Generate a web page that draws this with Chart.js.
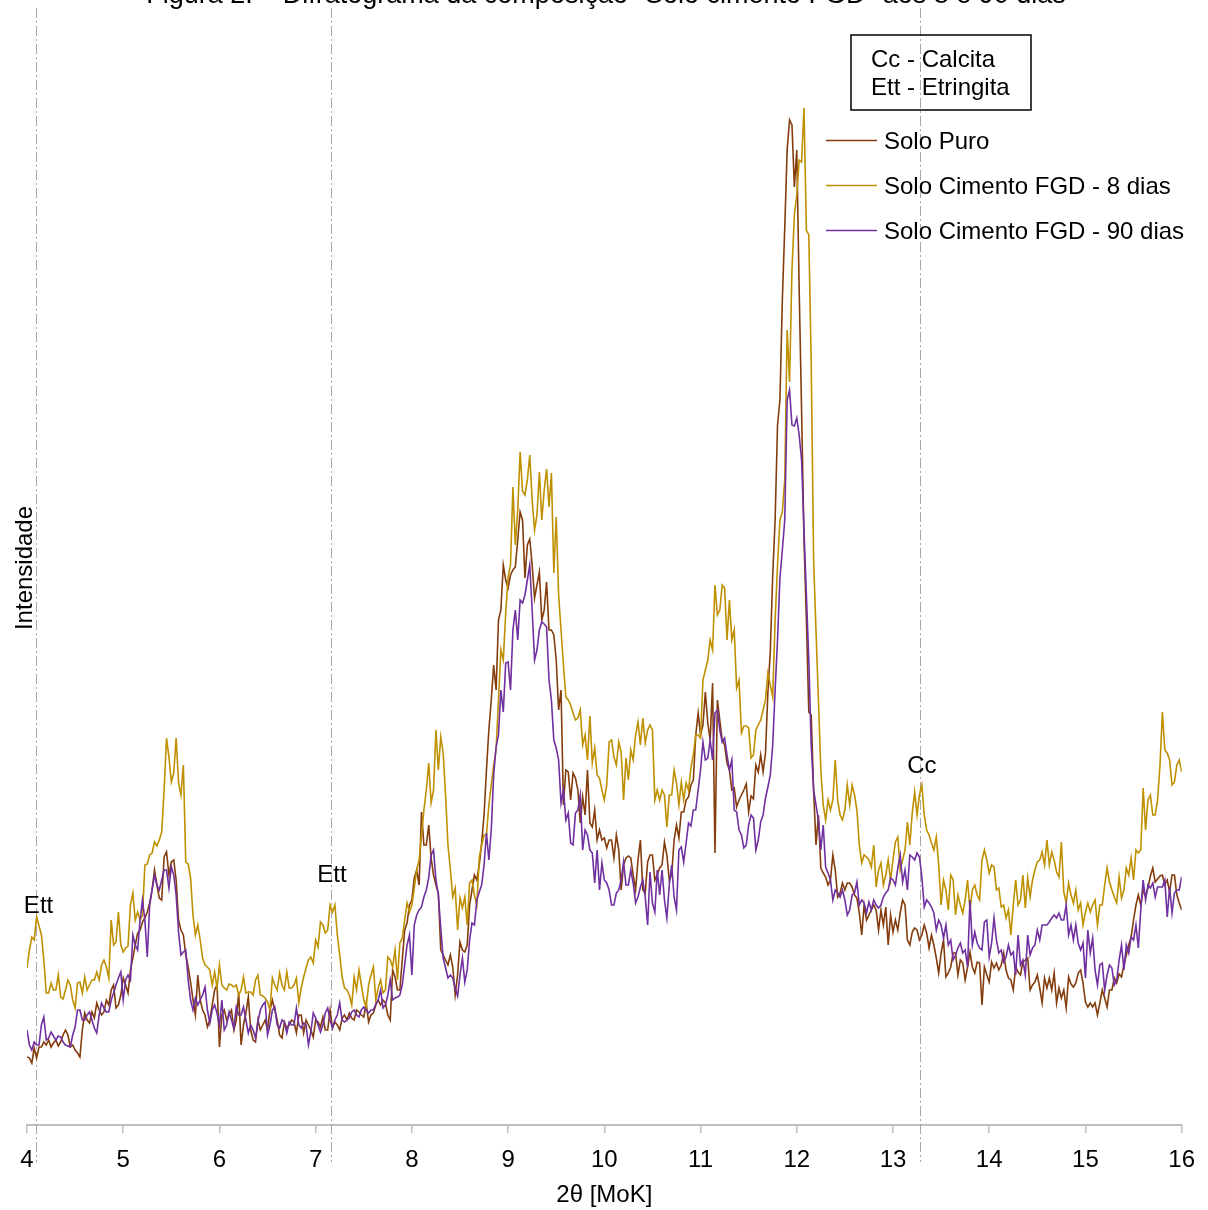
<!DOCTYPE html>
<html lang="pt">
<head>
<meta charset="utf-8">
<title>Difratograma – Solo cimento FGD</title>
<script src="https://cdn.jsdelivr.net/npm/chart.js@4.4.1/dist/chart.umd.min.js"></script>
<style>
  html, body { margin: 0; padding: 0; background: #ffffff; overflow: hidden; }
  #wrap { position: relative; width: 1208px; height: 1210px; overflow: hidden; background: #ffffff; }
  #c { position: absolute; left: 0; top: -30px; }
</style>
</head>
<body>
<div id="wrap"><canvas id="c" width="1208" height="1240"></canvas></div>
<script>
// Scan grid (2θ, degrees, MoKα)
const twoThetaStart = 4;
const twoThetaStep = 0.025;

// Intensities (arbitrary units) for each sample, one value per scan step
const soloPuro = [
  68,67,62,77,67,78,78,83,80,85,78,82,85,79,83,90,95,90,78,80,
  75,72,68,95,112,105,102,113,107,122,115,110,113,125,120,135,140,117,120,130,
  147,140,132,155,167,180,192,195,203,207,213,222,235,255,240,227,225,268,273,250,
  263,265,245,205,195,190,170,158,143,125,110,150,125,115,110,98,105,120,135,140,
  78,110,115,105,110,115,95,105,132,80,100,112,128,95,85,83,105,95,100,105,
  95,115,125,115,105,90,87,103,97,100,105,103,92,110,110,92,105,100,95,88,
  105,103,98,108,95,95,115,97,103,100,95,107,110,105,112,107,105,115,113,110,
  108,122,103,110,112,120,125,120,125,122,110,105,155,148,135,135,165,195,202,220,
  225,247,255,240,313,280,280,300,267,250,240,232,175,170,165,160,170,158,130,150,
  183,175,173,180,220,235,250,245,260,282,310,355,395,425,460,435,505,515,560,545,
  537,550,555,558,585,613,605,547,580,586,560,527,540,553,505,515,543,495,495,490,
  465,415,435,320,355,353,325,352,347,335,302,328,310,355,302,298,315,285,295,285,
  287,277,285,285,267,290,275,235,260,267,269,267,250,235,265,285,235,232,263,270,
  270,245,250,257,260,283,270,245,250,285,300,287,313,313,325,328,340,345,390,412,
  390,400,433,402,385,442,272,425,405,385,380,362,355,335,337,318,325,330,335,341,
  313,329,326,360,353,370,353,372,433,474,550,605,700,725,825,897,975,1005,1000,938,
  975,835,715,585,505,413,410,335,280,310,257,252,248,240,245,270,255,228,232,242,
  235,242,242,238,230,227,212,190,220,205,210,215,220,215,195,215,200,218,180,210,
  193,205,195,212,225,220,185,180,193,197,195,185,190,200,192,177,190,180,167,152,
  172,185,148,152,158,172,172,150,165,162,145,158,173,158,152,163,162,120,158,150,
  143,163,157,162,155,160,172,155,147,145,135,158,153,150,163,165,167,135,140,143,
  150,137,122,147,137,147,135,152,122,137,127,135,117,148,141,138,142,152,155,142,
  123,118,122,118,122,110,122,135,127,118,135,135,147,142,151,148,160,170,180,188,
  205,220,230,220,235,229,237,249,257,243,246,249,250,240,245,233,250,250,230,222,
  215
];

const fgd8 = [
  157,175,188,185,208,199,190,165,132,132,142,135,135,150,128,126,135,145,140,125,
  117,142,143,132,148,135,140,145,145,153,145,160,165,158,147,205,180,183,213,180,
  173,177,179,220,232,205,213,205,210,260,261,270,272,283,279,285,293,335,387,368,
  343,352,387,342,330,360,263,261,247,210,190,200,185,167,160,158,155,140,153,137,
  160,140,137,135,141,140,138,140,130,135,148,132,133,133,130,145,150,130,129,127,
  123,115,147,140,135,152,140,135,153,137,137,140,147,122,137,148,157,165,168,162,
  185,178,203,200,192,195,220,213,220,190,170,148,137,135,130,120,148,135,155,140,
  125,118,140,150,158,125,137,145,132,135,168,165,158,175,145,182,187,205,222,213,
  220,237,255,265,290,315,335,362,322,335,395,355,388,372,330,280,255,228,237,195,
  227,217,228,200,242,245,230,220,267,280,290,290,320,340,360,375,425,475,465,512,
  548,560,638,580,615,673,634,630,645,670,625,595,610,653,605,635,656,618,652,552,
  608,530,495,460,428,425,420,412,405,407,415,380,390,365,409,362,377,350,347,335,
  325,340,383,385,368,360,383,373,325,367,345,375,365,390,403,380,407,382,395,400,
  395,325,335,325,335,330,298,330,330,355,342,320,343,325,342,335,357,370,390,390,
  387,445,455,465,485,475,540,510,515,540,537,485,525,485,495,437,445,392,399,399,
  397,367,370,395,400,405,415,425,452,440,428,505,560,605,613,645,795,743,855,910,
  930,965,963,1017,895,890,763,565,494,425,355,320,305,325,315,325,365,325,310,305,
  315,340,320,340,330,315,280,262,270,268,265,258,280,238,255,262,240,250,265,245,
  265,283,288,255,265,275,303,280,312,333,310,330,340,310,295,290,282,275,288,260,
  220,245,235,215,250,245,210,230,220,212,225,245,215,235,240,230,225,265,275,265,
  252,260,258,235,237,218,220,207,215,190,220,245,220,225,250,217,247,228,245,255,
  263,265,273,260,285,260,273,265,253,248,283,233,222,242,230,222,235,215,222,200,
  213,222,213,220,225,200,220,220,240,257,243,235,228,222,248,227,235,257,250,267,
  245,275,272,275,337,295,325,330,310,310,325,360,413,375,372,365,340,343,360,365,
  353
];

const fgd90 = [
  95,80,75,83,80,80,100,108,85,87,93,89,85,89,88,83,80,79,78,90,
  98,115,115,105,105,110,113,105,97,92,110,122,117,113,113,125,132,140,147,153,
  125,145,150,145,190,180,175,205,225,205,168,220,235,250,240,235,245,255,255,237,
  258,250,230,193,170,173,175,145,125,115,127,120,125,130,138,115,102,115,120,112,
  100,125,95,100,113,105,97,118,110,110,118,105,92,100,95,87,103,115,120,123,
  90,100,115,118,100,97,105,103,92,103,100,100,117,100,97,102,100,80,93,112,
  107,100,93,100,112,117,105,97,105,110,122,105,103,105,107,113,115,110,108,115,
  118,115,112,115,115,121,125,135,117,120,130,145,125,127,128,130,140,160,180,190,
  150,200,210,215,218,228,235,247,270,275,245,230,197,167,157,147,150,147,137,129,
  150,167,143,155,185,202,200,225,233,240,260,292,265,295,350,378,390,435,413,462,
  463,435,495,515,485,525,522,530,545,560,515,465,475,495,503,501,498,445,425,385,
  377,365,322,335,305,312,282,280,312,315,330,275,295,290,275,272,242,275,235,262,
  245,242,235,220,220,232,235,245,263,240,240,255,242,222,228,238,245,228,200,253,
  222,213,255,230,255,225,207,240,260,228,215,275,278,263,282,302,299,315,315,335,
  355,383,365,367,385,365,412,415,395,383,387,370,355,365,315,313,295,290,277,280,
  300,310,307,275,285,303,310,327,338,350,380,435,485,547,575,605,725,735,700,699,
  707,690,665,595,530,465,380,335,320,305,275,300,258,252,245,225,235,232,228,235,
  225,210,215,230,232,243,220,225,222,212,223,215,225,220,217,220,228,232,235,247,
  245,240,257,270,243,255,235,270,268,265,272,268,248,218,225,222,218,212,195,205,
  200,187,200,180,185,165,170,177,182,172,175,158,225,180,193,182,177,175,203,205,
  168,182,207,185,172,175,163,168,180,170,173,150,190,160,165,150,190,170,177,180,
  195,185,200,200,200,203,207,210,207,212,205,205,220,190,200,185,200,182,175,182,
  147,195,172,187,155,140,160,162,135,150,160,157,140,145,165,180,155,180,172,188,
  185,200,177,215,245,225,240,237,242,228,238,238,238,245,208,238,212,232,235,235,
  248
];

const seriesNames = ['Solo Puro', 'Solo Cimento FGD - 8 dias', 'Solo Cimento FGD - 90 dias'];
const seriesColors = ['#843C0C', '#BF9000', '#7030A0'];

// x-axis tick values
const tickValues = [4, 5, 6, 7, 8, 9, 10, 11, 12, 13, 14, 15, 16];

// Reference positions of the identified phases
const phaseLines = [4.09, 7.16, 13.28];
const phaseNames = ['Ett', 'Ett', 'Cc'];
const phaseLabelX = [4.12, 7.17, 13.30];
const phaseLabelY = [212, 243, 352];

const phaseKey = ['Cc - Calcita', 'Ett - Etringita'];
const chartTitle = 'Figura 2. – Difratograma da composição "Solo cimento FGD" aos 8 e 90 dias';
const xTitle = '2θ [MoK]';
const yTitle = 'Intensidade';

const twoTheta = soloPuro.map((_, i) => +(twoThetaStart + i * twoThetaStep).toFixed(3));

const FONT = '"Liberation Sans", Arial, Helvetica, sans-serif';

const decor = {
  id: 'decor',
  beforeDatasetsDraw(chart) {
    const { ctx, chartArea, scales: { x } } = chart;
    ctx.save();
    ctx.strokeStyle = '#a6a6a6';
    ctx.lineWidth = 1;
    ctx.setLineDash([10, 3, 2, 3]);
    phaseLines.forEach(v => {
      const px = Math.round(x.getPixelForValue(v)) + 0.5;
      ctx.beginPath();
      ctx.moveTo(px, chartArea.top + 8);
      ctx.lineTo(px, chartArea.bottom + 37);
      ctx.stroke();
    });
    ctx.restore();
  },
  afterDraw(chart) {
    const { ctx, chartArea, scales: { x, y } } = chart;
    const top = chartArea.top;
    ctx.save();
    ctx.fillStyle = '#000';
    ctx.textBaseline = 'alphabetic';

    // title
    ctx.textAlign = 'center';
    ctx.font = '27px ' + FONT;
    ctx.fillText(chartTitle, 606, top + 3);

    ctx.font = '24px ' + FONT;
    // axis titles
    ctx.fillText(xTitle, (chartArea.left + chartArea.right) / 2, top + 1202);
    ctx.save();
    ctx.translate(32, top + 568);
    ctx.rotate(-Math.PI / 2);
    ctx.fillText(yTitle, 0, 0);
    ctx.restore();

    // phase labels
    phaseNames.forEach((t, i) => {
      ctx.fillText(t, x.getPixelForValue(phaseLabelX[i]), y.getPixelForValue(phaseLabelY[i]));
    });

    // phase key box
    ctx.strokeStyle = '#000';
    ctx.lineWidth = 1.5;
    ctx.strokeRect(851, top + 35, 180, 75);
    ctx.textAlign = 'left';
    phaseKey.forEach((t, i) => ctx.fillText(t, 871, top + 67 + i * 28));

    // series legend
    chart.data.datasets.forEach((ds, i) => {
      const ly = top + 140 + i * 45;
      ctx.strokeStyle = ds.borderColor;
      ctx.lineWidth = 1.5;
      ctx.beginPath();
      ctx.moveTo(826, ly + 0.5);
      ctx.lineTo(877, ly + 0.5);
      ctx.stroke();
      ctx.fillText(ds.label, 884, ly + 8.5);
    });
    ctx.restore();
  }
};

new Chart(document.getElementById('c'), {
  type: 'line',
  data: {
    labels: twoTheta,
    datasets: [
      { label: seriesNames[0], data: soloPuro, borderColor: seriesColors[0], order: 3 },
      { label: seriesNames[1], data: fgd8, borderColor: seriesColors[1], order: 2 },
      { label: seriesNames[2], data: fgd90, borderColor: seriesColors[2], order: 1 }
    ]
  },
  options: {
    responsive: false,
    animation: false,
    devicePixelRatio: 1,
    layout: { padding: { left: 27, right: 25, top: 30, bottom: 0 } },
    elements: {
      point: { radius: 0 },
      line: { borderWidth: 1.6, tension: 0, fill: false }
    },
    plugins: {
      legend: { display: false },
      tooltip: { enabled: false },
      title: { display: false }
    },
    scales: {
      x: {
        type: 'linear',
        min: 4,
        max: 16,
        afterFit(s) { s.height = 85; },
        afterBuildTicks(s) { s.ticks = tickValues.map(v => ({ value: v })); },
        border: { display: true, color: '#bfbfbf', width: 2 },
        grid: { drawOnChartArea: false, drawTicks: true, tickLength: 8, color: '#bfbfbf', lineWidth: 1.5 },
        ticks: {
          autoSkip: false,
          maxRotation: 0,
          padding: 13,
          color: '#000',
          font: { family: FONT, size: 24 },
          callback: v => String(v)
        }
      },
      y: { display: false, min: 0, max: 1125 }
    }
  },
  plugins: [decor]
});
</script>
</body>
</html>
